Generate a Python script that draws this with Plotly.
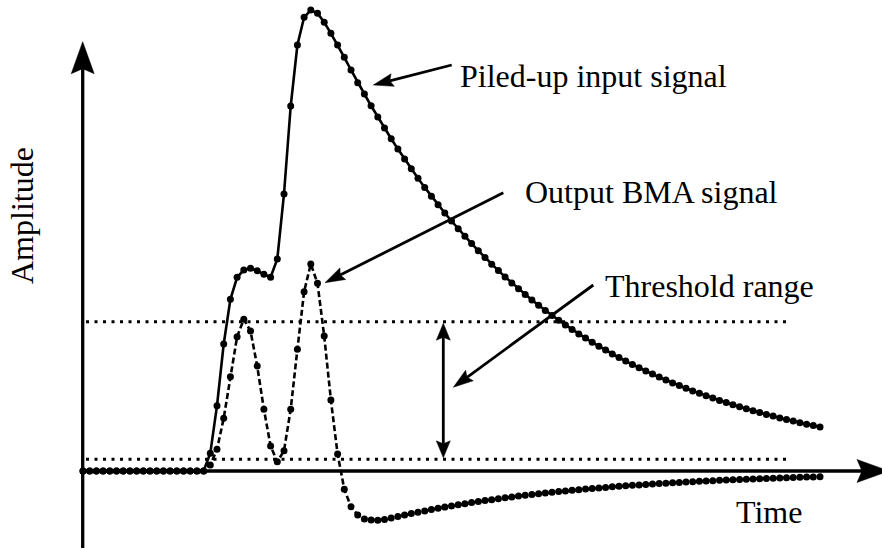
import numpy as np
import plotly.graph_objects as go

# ---------------- data ----------------
sample = list(range(111))

piled_up_input = [
    0, 0, 0, 0, 0, 0, 0, 0, 0, 0, 0, 0, 0, 0, 0, 0, 0, 0, 0,
    1.77, 6.53, 12.70, 17.17, 19.37, 20.10, 20.27, 20.03, 19.67, 19.37,
    21.20, 27.70, 36.50, 42.60, 45.37, 46.10, 45.77, 44.87, 43.77, 42.60,
    41.37, 40.10, 38.83, 37.70, 36.52, 35.39, 34.29, 33.22, 32.19, 31.19,
    30.22, 29.28, 28.36, 27.48, 26.63, 25.80, 25.00, 24.22, 23.47, 22.74,
    22.03, 21.34, 20.68, 20.04, 19.41, 18.81, 18.22, 17.66, 17.11, 16.58,
    16.06, 15.56, 15.08, 14.61, 14.15, 13.71, 13.29, 12.87, 12.47, 12.09,
    11.71, 11.35, 10.99, 10.65, 10.32, 10.00, 9.69, 9.39, 9.09, 8.81,
    8.54, 8.27, 8.01, 7.77, 7.52, 7.29, 7.06, 6.84, 6.63, 6.42,
    6.22, 6.03, 5.84, 5.66, 5.49, 5.31, 5.15, 4.99, 4.83, 4.68,
    4.54, 4.40,
]

bma_output = [
    0, 0, 0, 0, 0, 0, 0, 0, 0, 0, 0, 0, 0, 0, 0, 0, 0, 0, 0,
    0.60, 2.17, 5.27, 9.43, 13.43, 15.17, 14.00, 10.50, 6.17, 2.50,
    0.93, 2.03, 6.17, 12.17, 17.93, 20.70, 18.77, 13.50, 7.10, 1.70,
    -1.83, -3.57, -4.40, -4.80, -4.90, -4.92, -4.86, -4.70, -4.55, -4.40,
    -4.26, -4.12, -3.99, -3.86, -3.73, -3.61, -3.49, -3.38, -3.27, -3.16,
    -3.06, -2.96, -2.87, -2.77, -2.68, -2.60, -2.51, -2.43, -2.35, -2.28,
    -2.20, -2.13, -2.06, -1.99, -1.93, -1.87, -1.81, -1.75, -1.69, -1.64,
    -1.58, -1.53, -1.48, -1.43, -1.39, -1.34, -1.30, -1.26, -1.22, -1.18,
    -1.14, -1.10, -1.07, -1.03, -1.00, -0.97, -0.93, -0.90, -0.87, -0.85,
    -0.82, -0.79, -0.77, -0.74, -0.72, -0.69, -0.67, -0.65, -0.63, -0.61,
    -0.59, -0.57,
]

thresholds = [14.93, 1.17]          # upper, lower
threshold_span = [0.45, 105.5]      # sample range of the dotted lines

labels = {
    "input": "Piled-up input signal",
    "output": "Output BMA signal",
    "range": "Threshold range",
    "x": "Time",
    "y": "Amplitude",
}

# ---------------- geometry ----------------
W, H = 882, 552
X0_PX, DX_PX = 83.0, 6.7     # pixel of sample 0, pixels per sample
Y0_PX, DY_PX = 471.0, 10.0   # pixel of zero amplitude, pixels per unit

xr = [(0 - X0_PX) / DX_PX, (W - X0_PX) / DX_PX]
yr = [(Y0_PX - H) / DY_PX, Y0_PX / DY_PX]


def dx2px(v):
    return X0_PX + DX_PX * v


def dy2px(v):
    return Y0_PX - DY_PX * v


def paper(xp, yp):
    return xp / W, 1 - yp / H


shapes = []


def seg(p0, p1, width, dash=None):
    a = paper(*p0)
    b = paper(*p1)
    ln = dict(color="black", width=width)
    if dash:
        ln["dash"] = dash
    shapes.append(dict(type="line", xref="paper", yref="paper",
                       x0=a[0], y0=a[1], x1=b[0], y1=b[1], line=ln,
                       layer="above"))


def head(tip, frm, L, Wd, notch):
    t = np.array(tip, float)
    d = t - np.array(frm, float)
    d /= np.linalg.norm(d)
    n = np.array([-d[1], d[0]])
    back = t - L * d
    c1 = back + n * Wd / 2
    c2 = back - n * Wd / 2
    nt = t - (L - notch) * d
    pts = [t, c1, nt, c2]
    path = "M " + " L ".join("%.5f,%.5f" % paper(*p) for p in pts) + " Z"
    shapes.append(dict(type="path", xref="paper", yref="paper", path=path,
                       fillcolor="black", line=dict(color="black", width=0.5),
                       layer="above"))
    return tuple(t - (L - notch) * d)


def arrow(frm, tip, width, L, Wd, notch):
    end = head(tip, frm, L, Wd, notch)
    seg(frm, end, width)


def darrow(p0, p1, width, L, Wd, notch):
    e1 = head(p0, p1, L, Wd, notch)
    e2 = head(p1, p0, L, Wd, notch)
    seg(e1, e2, width)


# axes
arrow((82.7, 548), (82.7, 41.7), 3.3, 32, 23, 5)
arrow((81.1, 471), (889, 471), 3.3, 32, 23, 5)

# threshold dotted lines
for t in thresholds:
    seg((dx2px(threshold_span[0]), dy2px(t)), (dx2px(threshold_span[1]), dy2px(t)),
        3, dash="3px,5.5px")

# threshold range double arrow
darrow((443.3, dy2px(thresholds[0]) + 1.5), (443.3, dy2px(thresholds[1]) - 1.5),
       2.8, 17, 14, 3)

# label arrows
arrow((451.7, 65), (373.3, 85), 2.8, 20, 13, 3)
arrow((503.3, 192.7), (325, 282.7), 2.8, 20, 13, 3)
arrow((593.3, 285), (453.3, 387.3), 2.8, 20, 13, 3)

# ---------------- figure ----------------
fig = go.Figure()
fig.add_trace(go.Scatter(
    x=sample, y=bma_output, mode="lines+markers",
    line=dict(color="black", width=2.6, dash="6px,3px"),
    marker=dict(color="black", size=7), cliponaxis=False, showlegend=False))
fig.add_trace(go.Scatter(
    x=sample, y=piled_up_input, mode="lines+markers",
    line=dict(color="black", width=2.6),
    marker=dict(color="black", size=7), cliponaxis=False, showlegend=False))

FONT = dict(family="Liberation Serif", size=32, color="black")
annotations = []


def text(s, xp, yp, angle=0, xanchor="left"):
    px_, py_ = paper(xp, yp)
    annotations.append(dict(text=s, x=px_, y=py_, xref="paper", yref="paper",
                            xanchor=xanchor, yanchor="middle", showarrow=False,
                            textangle=angle, font=FONT))


text(labels["input"], 458, 76)
text(labels["output"], 523, 192)
text(labels["range"], 603, 286)
text(labels["x"], 734, 512)
text(labels["y"], 22, 216, angle=-90, xanchor="center")

fig.update_layout(
    width=W, height=H, margin=dict(l=0, r=0, t=0, b=0, pad=0),
    paper_bgcolor="white", plot_bgcolor="white",
    xaxis=dict(range=xr, visible=False, domain=[0, 1]),
    yaxis=dict(range=yr, visible=False, domain=[0, 1]),
    shapes=shapes, annotations=annotations,
)

fig.write_html("out.html")
